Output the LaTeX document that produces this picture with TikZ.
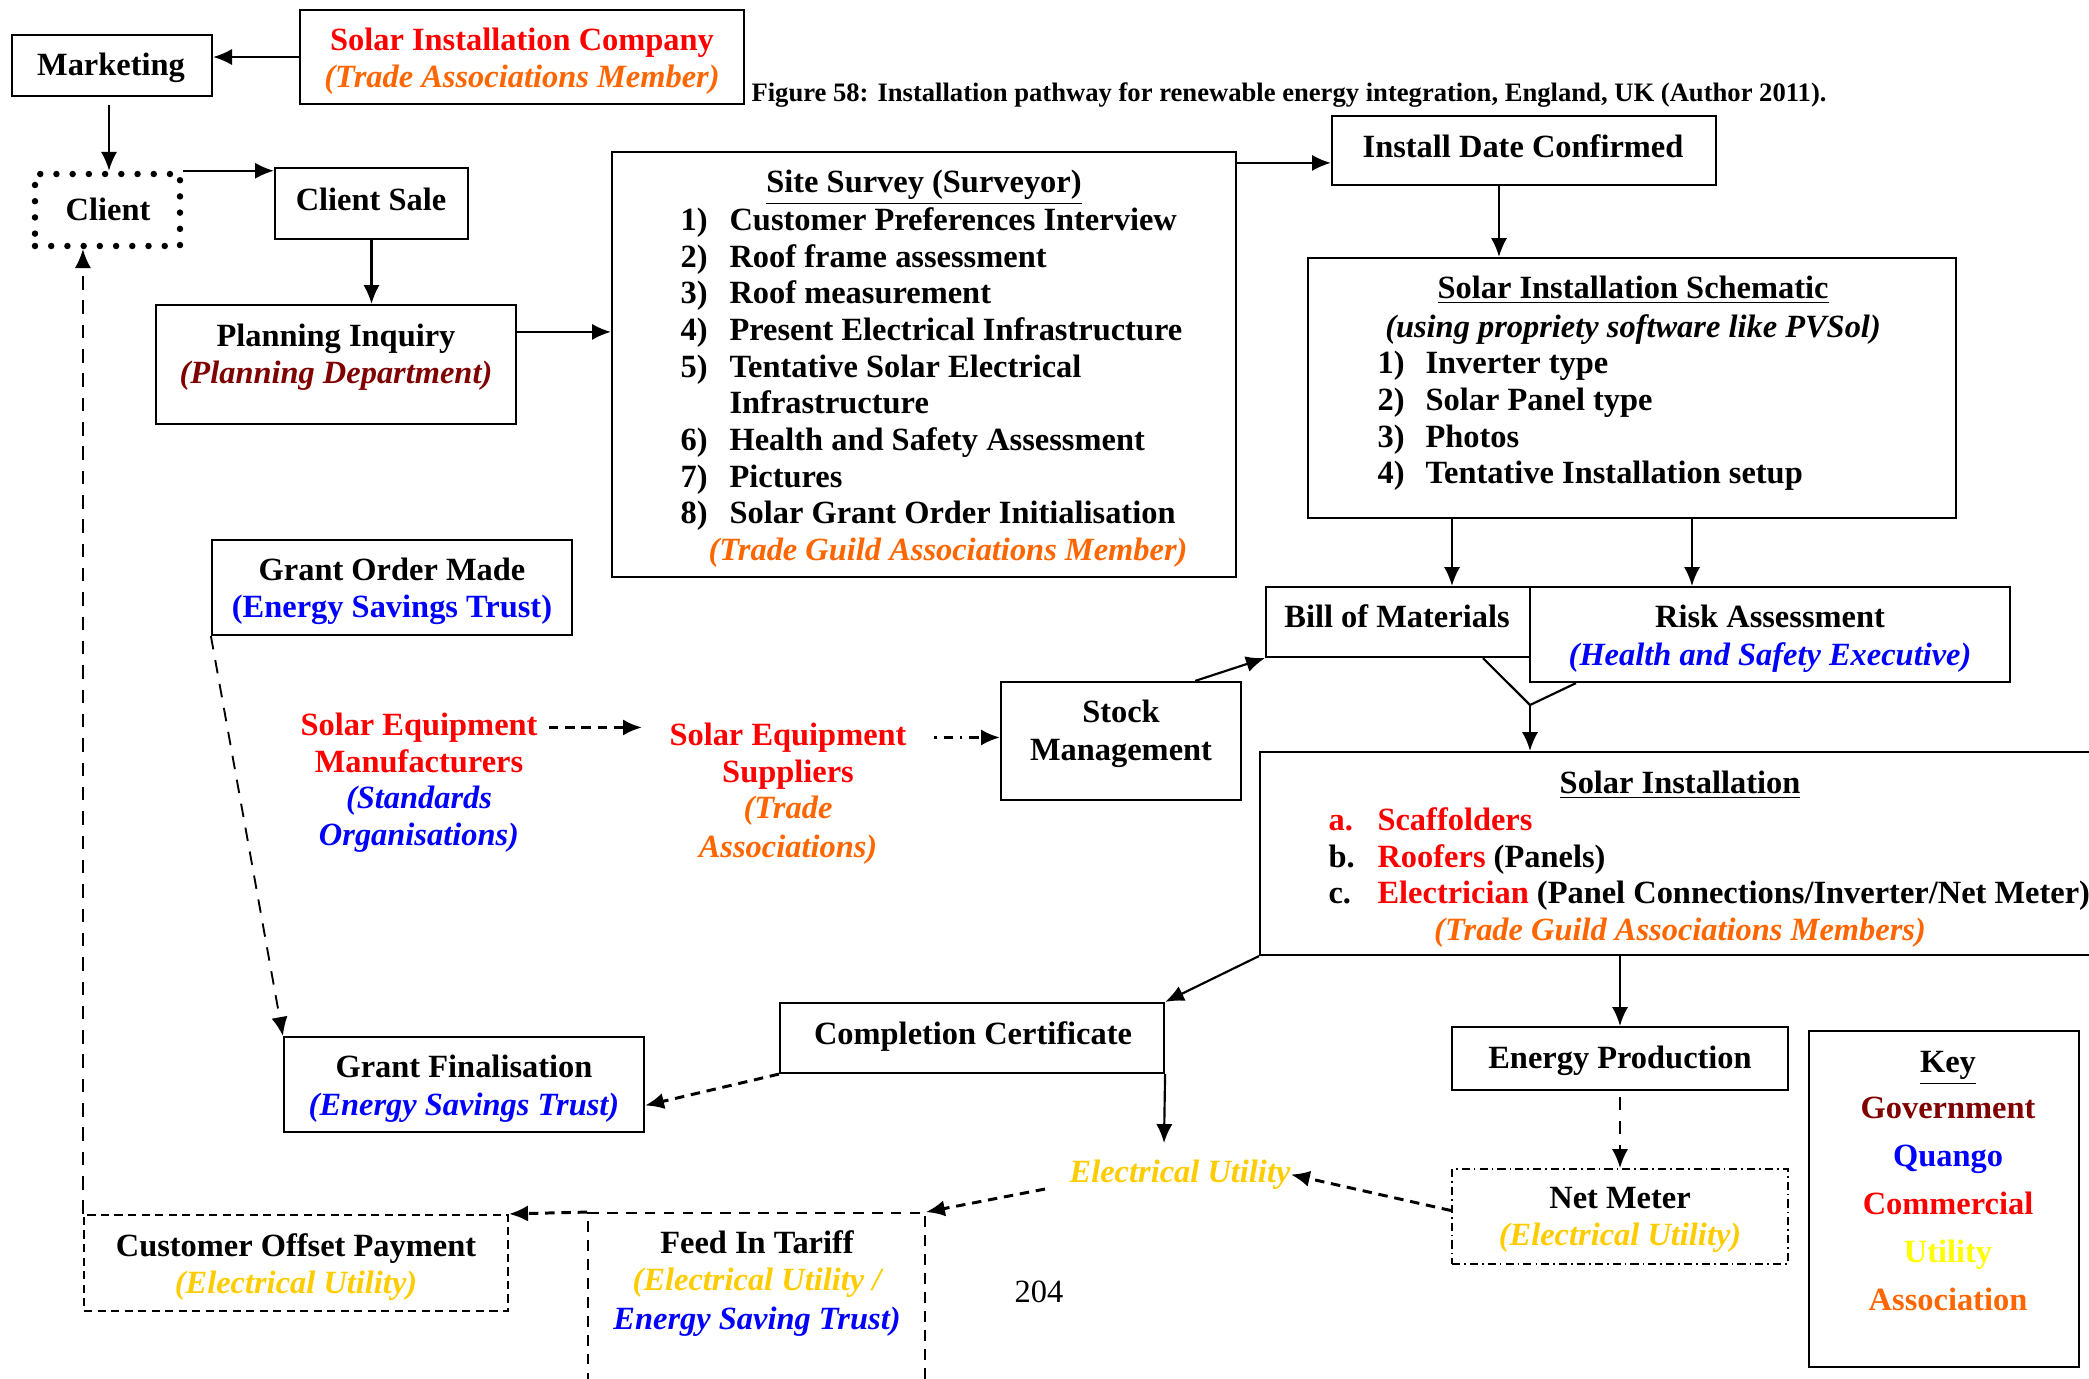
\documentclass[tikz,border=0pt]{standalone}
\usepackage{fontspec}
\setmainfont{Liberation Serif}
\usetikzlibrary{arrows.meta,calc,fit}
\definecolor{govred}{RGB}{128,0,0}
\definecolor{quango}{RGB}{0,0,255}
\definecolor{comred}{RGB}{255,0,0}
\definecolor{utilgold}{RGB}{255,204,0}
\definecolor{utilyel}{RGB}{255,255,0}
\definecolor{assoc}{RGB}{255,102,0}

\begin{document}
\begin{tikzpicture}[x=0.37pt,y=-0.37pt,
  box/.style={draw, line width=0.8pt, inner sep=0pt},
  dbox/.style={draw, line width=0.8pt, dash pattern=on 3pt off 2pt, inner sep=0pt},
  ddbox/.style={draw, line width=0.8pt, dash pattern=on 3pt off 1.5pt on 0.6pt off 1.5pt, inner sep=0pt},
  lbl/.style={anchor=mid, inner sep=0pt, yshift=-1.5pt, font=\bfseries\fontsize{12}{13.8}\selectfont},
  lbli/.style={lbl, font=\bfseries\itshape\fontsize{12}{13.8}\selectfont},
  lblw/.style={lbl, anchor=mid west},
  arr/.style={-{Latex[length=7pt,width=6pt]}, line width=0.8pt},
  darr/.style={arr, line width=1.1pt, dash pattern=on 3.5pt off 2.5pt},
  tarr/.style={arr, line width=0.7pt, dash pattern=on 5pt off 4pt},
]
\useasboundingbox (0,0) rectangle (2089,1378);

% ---------- boxes ----------
\node[box, fit={(12,35)(212,96)}] (mkt) {};
\node[box, fit={(300,10)(744,104)}] (sic) {};
\node[fit={(35,174)(180,246)}, inner sep=0pt, draw, line width=2.4pt,
      dash pattern=on 0pt off 6pt, line cap=round] (client) {};
\node[box, fit={(275,168)(468,239)}] (sale) {};
\node[box, fit={(156,305)(516,424)}] (plan) {};
\node[box, fit={(612,152)(1236,577)}] (survey) {};
\node[box, fit={(1332,116)(1716,185)}] (idc) {};
\node[box, fit={(1308,258)(1956,518)}] (sch) {};
\node[box, fit={(1266,587)(1530,657)}] (bom) {};
\node[box, fit={(1530,587)(2010,682)}] (risk) {};
\node[box, fit={(1001,682)(1241,800)}] (stock) {};
\node[box, fit={(212,540)(572,635)}] (gom) {};
\node[box, fit={(1260,752)(2110,955)}] (si) {};
\node[box, fit={(284,1037)(644,1132)}] (gfin) {};
\node[box, fit={(780,1003)(1164,1073)}] (cc) {};
\node[box, fit={(1452,1027)(1788,1090)}] (ep) {};
\node[ddbox, fit={(1452,1169)(1788,1264)}] (nm) {};
\node[dbox, fit={(84,1215)(508,1311)}] (cop) {};
\node[draw, line width=0.7pt, dash pattern=on 4pt off 3pt, inner sep=0pt,
      fit={(588,1213)(925,1420)}] (fitbox) {};
\node[box, fit={(1809,1031)(2079,1367)}] (key) {};

% ---------- texts ----------
\node[lbl] (mktT) at (111,65) {Marketing};
\node[lbl, text=comred] (sicA) at (522,40) {Solar Installation Company};
\node[lbli, text=assoc] (sicB) at (522,77) {(Trade Associations Member)};
\node[anchor=mid west, inner sep=0pt, yshift=-1pt, font=\bfseries\fontsize{9.85}{12}\selectfont]
  (caption) at (751,93) {Figure 58: Installation pathway for renewable energy integration, England, UK (Author 2011).};
\node[lbl] (clientT) at (108,210) {Client};
\node[lbl] (saleT) at (371,200) {Client Sale};
\node[lbl] (planA) at (336,336) {Planning Inquiry};
\node[lbli, text=govred] (planB) at (336,373) {(Planning Department)};

% site survey list
\node[lbl] (svT) at (924,182) {\underline{Site Survey (Surveyor)}};
\foreach \n/\t/\yy in {1)/Customer Preferences Interview/220,
                       2)/Roof frame assessment/257,
                       3)/Roof measurement/293,
                       4)/Present Electrical Infrastructure/330,
                       5)/Tentative Solar Electrical/367,
                       6)/Health and Safety Assessment/440,
                       7)/Pictures/477,
                       8)/Solar Grant Order Initialisation/513}{
  \node[lblw] at (680,\yy) {\n};
  \node[lblw] at (729,\yy) {\t};
}
\node[lblw] (svInf) at (729,403) {Infrastructure};
\node[lbli, text=assoc] (svM) at (948,550) {(Trade Guild Associations Member)};

\node[lbl] (idcT) at (1523,147) {Install Date Confirmed};

% schematic list
\node[lbl] (schT) at (1633,288) {\underline{Solar Installation Schematic}};
\node[lbli] (schB) at (1633,327) {(using propriety software like PVSol)};
\foreach \n/\t/\yy in {1)/Inverter type/363, 2)/Solar Panel type/400,
                       3)/Photos/437, 4)/Tentative Installation setup/473}{
  \node[lblw] at (1377,\yy) {\n};
  \node[lblw] at (1425,\yy) {\t};
}

\node[lbl] (bomT) at (1397,617) {Bill of Materials};
\node[lbl] (riskA) at (1770,617) {Risk Assessment};
\node[lbli, text=quango] (riskB) at (1770,655) {(Health and Safety Executive)};

\node[lbl] (stockA) at (1121,712) {Stock};
\node[lbl] (stockB) at (1121,750) {Management};

\node[lbl] (gomA) at (392,570) {Grant Order Made};
\node[lbl, text=quango] (gomB) at (392,607) {(Energy Savings Trust)};

\node[lbl, text=comred] (sem1) at (419,725) {Solar Equipment};
\node[lbl, text=comred] (sem2) at (419,762) {Manufacturers};
\node[lbli, text=quango] (sem3) at (419,798) {(Standards};
\node[lbli, text=quango] (sem4) at (419,835) {Organisations)};

\node[lbl, text=comred] (ses1) at (788,735) {Solar Equipment};
\node[lbl, text=comred] (ses2) at (788,772) {Suppliers};
\node[lbli, text=assoc] (ses3) at (788,808) {(Trade};
\node[lbli, text=assoc] (ses4) at (788,847) {Associations)};

% solar installation list
\node[lbl] (siT) at (1680,783) {\underline{Solar Installation}};
\node[lblw, text=comred] (siA1) at (1328,820) {a.};
\node[lblw] (siA2) at (1377,820) {\textcolor{comred}{Scaffolders}};
\node[lblw] (siB1) at (1328,857) {b.};
\node[lblw] (siB2) at (1377,857) {\textcolor{comred}{Roofers} (Panels)};
\node[lblw] (siC1) at (1328,893) {c.};
\node[lblw] (siC2) at (1377,893) {\textcolor{comred}{Electrician} (Panel Connections/Inverter/Net Meter)};
\node[lbli, text=assoc] (siM) at (1680,930) {(Trade Guild Associations Members)};

\node[lbl] (gfinA) at (464,1067) {Grant Finalisation};
\node[lbli, text=quango] (gfinB) at (464,1105) {(Energy Savings Trust)};
\node[lbl] (ccT) at (973,1034) {Completion Certificate};
\node[lbl] (epT) at (1620,1058) {Energy Production};
\node[lbli, text=utilgold] (eu) at (1180,1172) {Electrical Utility};
\node[lbl] (nmA) at (1620,1198) {Net Meter};
\node[lbli, text=utilgold] (nmB) at (1620,1235) {(Electrical Utility)};
\node[lbl] (copA) at (296,1246) {Customer Offset Payment};
\node[lbli, text=utilgold] (copB) at (296,1283) {(Electrical Utility)};
\node[lbl] (fitA) at (757,1243) {Feed In Tariff};
\node[lbli, text=utilgold] (fitB) at (757,1280) {(Electrical Utility /};
\node[lbli, text=quango] (fitC) at (757,1319) {Energy Saving Trust)};
\node[anchor=mid, inner sep=0pt, yshift=-1.5pt, font=\fontsize{12}{13.8}\selectfont] (page) at (1039,1292) {204};

% key
\node[lbl] (keyT) at (1948,1062) {\underline{Key}};
\node[lbl, text=govred] (kGov) at (1948,1108) {Government};
\node[lbl, text=quango] (kQua) at (1948,1156) {Quango};
\node[lbl, text=comred] (kCom) at (1948,1204) {Commercial};
\node[lbl, text=utilyel] (kUti) at (1948,1252) {Utility};
\node[lbl, text=assoc] (kAss) at (1948,1300) {Association};

% ---------- connectors ----------
\draw[arr] (sic.west) -- (sic.west -| mkt.east);
\coordinate (m1) at ($(mkt.south)+(-3,8)$);
\draw[arr] (m1) -- (m1 |- client.north);
\draw[arr] (client.north east) -- (client.north east -| sale.west);
\draw[arr] (sale.south) -- (sale.south |- plan.north);
\coordinate (p1) at ($(plan.north east)+(0,28)$);
\draw[arr] (p1) -- (p1 -| survey.west);
\coordinate (v1) at ($(survey.north east)+(0,12)$);
\draw[arr] (v1) -- (v1 -| idc.west);
\coordinate (i1) at ($(idc.south)+(-25,0)$);
\draw[arr] (i1) -- (i1 |- sch.north);
\coordinate (b1) at ($(bom.north)+(54,0)$);
\draw[arr] (b1 |- sch.south) -- (b1);
\coordinate (r1) at ($(risk.north)+(-78,0)$);
\draw[arr] (r1 |- sch.south) -- (r1);
\coordinate (merge) at (1530,705);
\draw[line width=0.8pt] ($(bom.south)+(85,0)$) -- (merge) -- ($(risk.south)+(-194,0)$);
\draw[arr] (merge) -- (merge |- si.north);
\coordinate (k1) at ($(stock.north east)+(-47,0)$);
\draw[arr] (k1) -- (bom.south west);
\draw[darr, shorten <=4pt, shorten >=10pt] (sem1.east) -- (sem1.east -| ses1.west);
\draw[darr, dash pattern=on 1pt off 2.5pt on 3.5pt off 2.5pt, shorten <=10pt]
  (ses1.east) -- (ses1.east -| stock.west);
\draw[tarr] (gom.south west) -- (gfin.north west);
\draw[arr] (si.south west) -- (cc.north east);
\coordinate (g1) at ($(gfin.east)+(0,21)$);
\draw[darr] (cc.south west) -- (g1);
\coordinate (euTop) at (1164,1143);
\draw[arr] (cc.south east) -- (euTop);
\draw[arr] (ep.north |- si.south) -- (ep.north);
\draw[tarr, shorten <=2pt] (ep.south) -- (nm.north);
\coordinate (n1) at ($(nm.west)+(0,-6)$);
\draw[darr] (n1) -- (eu.east);
\coordinate (e1) at (1045,1189);
\draw[darr] (e1) -- (fitbox.north east);
\draw[darr] (fitbox.north west) -- (cop.north east);
\draw[tarr] (cop.north west) -- (cop.north west |- client.south);
\end{tikzpicture}
\end{document}
